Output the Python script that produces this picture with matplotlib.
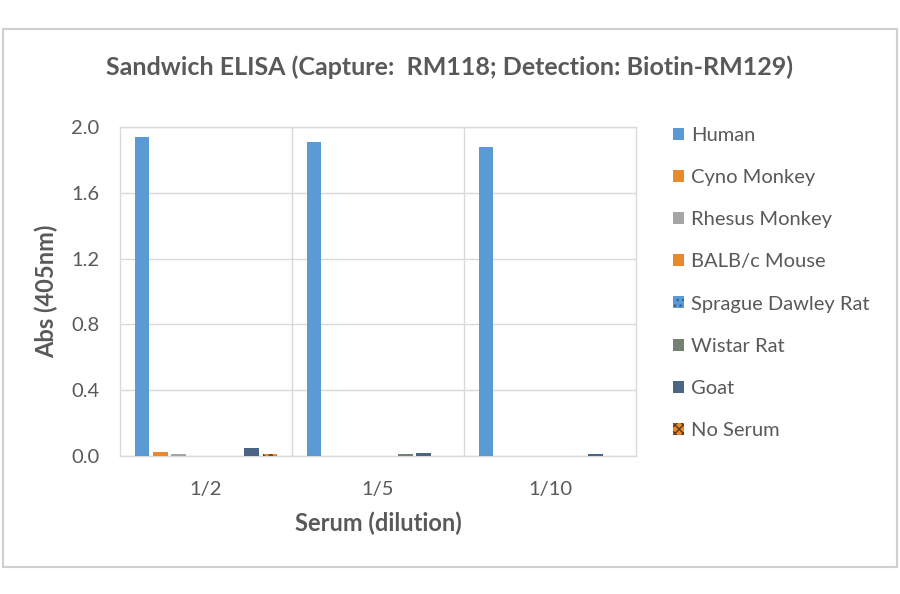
import matplotlib.pyplot as plt
from matplotlib.patches import Rectangle
import numpy as np

plt.rcParams['font.family'] = ['Lato', 'DejaVu Sans']
plt.rcParams['hatch.linewidth'] = 1.0

dilutions = ['1/2', '1/5', '1/10']
species = ['Human', 'Cyno Monkey', 'Rhesus Monkey', 'BALB/c Mouse',
           'Sprague Dawley Rat', 'Wistar Rat', 'Goat', 'No Serum']
human = [1.94, 1.91, 1.88]
cyno = [0.025, 0.0, 0.0]
rhesus = [0.010, 0.0, 0.0]
balbc = [0.0, 0.0, 0.0]
sd_rat = [0.0, 0.0, 0.0]
wistar = [0.0, 0.012, 0.0]
goat = [0.048, 0.018, 0.012]
no_serum = [0.012, 0.0, 0.0]
series = [human, cyno, rhesus, balbc, sd_rat, wistar, goat, no_serum]

colors = ['#5B9BD5', '#E8892B', '#A5A5A5', '#E8892B',
          '#5B9BD5', '#748170', '#4B6584', '#E8892B']
hatches = [None, None, None, None, '...', None, None, 'xxxx']
hatch_cols = [None, None, None, None, '#2F5F9A', None, None, '#5A3A1A']

txt = '#595959'
grid = '#D9D9D9'

fig = plt.figure(figsize=(9, 5.94), dpi=100)
fig.patches.append(Rectangle((0.003, 0.046), 0.994, 0.906, transform=fig.transFigure,
                             fill=False, edgecolor='#D0D0D0', linewidth=1.5))

ax = fig.add_axes([0.1333, 0.2323, 0.5734, 0.5539])
x = np.arange(len(dilutions))
step = 0.106
width = 0.084
for i, (vals, name) in enumerate(zip(series, species)):
    off = (i - 3.5) * step
    bars = ax.bar(x + off, vals, width, color=colors[i], label=name, zorder=3,
                  linewidth=0)
    if hatches[i]:
        for b in bars:
            b.set_hatch(hatches[i])
            b.set_edgecolor(hatch_cols[i])

ax.set_xlim(-0.5, 2.5)
ax.set_ylim(0, 2.0)
ax.set_yticks(np.arange(0, 2.01, 0.4))
ax.set_yticklabels(['%.1f' % v for v in np.arange(0, 2.01, 0.4)])
ax.set_xticks(x)
ax.set_xticklabels(dilutions)
ax.tick_params(length=0, labelsize=14.5, colors=txt)
ax.tick_params(axis='x', pad=18)
ax.tick_params(axis='y', pad=15)
ax.yaxis.grid(True, color=grid, linewidth=1, zorder=0)
for xv in [0.5, 1.5]:
    ax.axvline(xv, color=grid, linewidth=1, zorder=0)
for s in ax.spines.values():
    s.set_color(grid)
    s.set_linewidth(1)

ax.set_ylabel('Abs (405nm)', fontsize=17, fontweight='bold', color=txt, labelpad=9)
ax.set_xlabel('Serum (dilution)', fontsize=17, fontweight='bold', color=txt, labelpad=10)
fig.text(0.5, 0.887, 'Sandwich ELISA (Capture:  RM118; Detection: Biotin-RM129)',
         ha='center', va='center', fontsize=18, fontweight='bold', color=txt)

leg = ax.legend(loc='upper left', bbox_to_anchor=(0.739, 0.8), bbox_transform=fig.transFigure,
                frameon=False, fontsize=14.5, labelspacing=1.25, handlelength=0.55,
                handleheight=0.55, handletextpad=0.35, borderaxespad=0)
for t in leg.get_texts():
    t.set_color(txt)

fig.savefig('out.png', dpi=100)
